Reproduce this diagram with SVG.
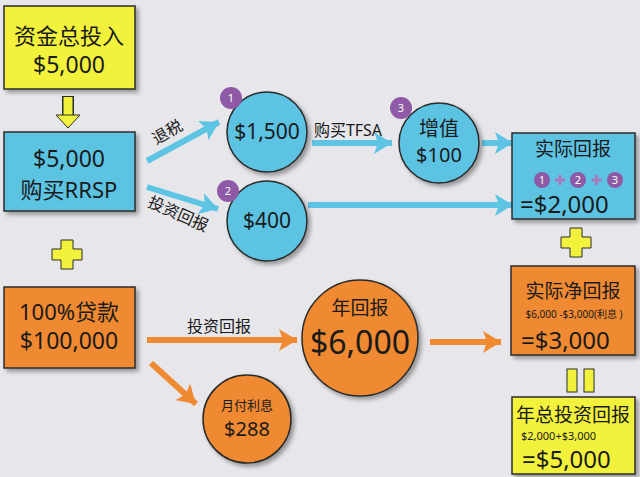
<svg xmlns="http://www.w3.org/2000/svg" width="640" height="477" viewBox="0 0 640 477">
<defs>
<filter id="sh" x="-20%" y="-20%" width="140%" height="140%">
<feDropShadow dx="3" dy="3" stdDeviation="2" flood-color="#000" flood-opacity="0.35"/>
</filter>
<marker id="ab" markerUnits="userSpaceOnUse" markerWidth="20" markerHeight="22" refX="18" refY="11" orient="auto">
<path d="M0,0 L18,11 L0,22 L4,11 Z" fill="#5ec4e4"/>
</marker>
<marker id="ao" markerUnits="userSpaceOnUse" markerWidth="20" markerHeight="22" refX="18" refY="11" orient="auto">
<path d="M0,0 L18,11 L0,22 L4,11 Z" fill="#ef8a33"/>
</marker>
</defs>
<style>
text{font-family:"Noto Sans","Noto Sans CJK SC",sans-serif;fill:#1a1a1a;text-anchor:middle}
.box{stroke:#2b2b2b;stroke-width:1.5;filter:url(#sh)}
.y{fill:#f2f23c}
.b{fill:#5cc3e3}
.o{fill:#ef8930}
.bl{stroke:#5ec4e4;stroke-width:6;fill:none;marker-end:url(#ab)}
.ol{stroke:#ef8a33;stroke-width:6;fill:none;marker-end:url(#ao)}
.pb{fill:#8e5aa5}
.pp{fill:#a77cbb}
.pt{fill:#fff;font-size:11px}
.lbl{font-size:16px}
</style>
<rect width="640" height="477" fill="#e7e7eb"/>

<g id="connectors">
<path d="M68,96 V116" stroke="#2b2b2b" stroke-width="12"/>
<path d="M68,97 V116" stroke="#f2f23c" stroke-width="9"/>
<path d="M56,115 L80,115 L68,128 Z" fill="#f2f23c" stroke="#2b2b2b" stroke-width="1"/>
<line x1="147" y1="161" x2="219" y2="122" class="bl"/>
<line x1="147" y1="187" x2="218" y2="209" class="bl"/>
<line x1="312" y1="143" x2="392" y2="143" class="bl"/>
<line x1="482" y1="143" x2="513" y2="143" class="bl"/>
<line x1="308" y1="205" x2="513" y2="205" class="bl"/>
<line x1="147" y1="340" x2="297" y2="340" class="ol"/>
<line x1="151" y1="363" x2="196" y2="404" class="ol"/>
<line x1="430" y1="342" x2="501" y2="342" class="ol"/>
<text class="lbl" transform="translate(170,137) rotate(-30)">退税</text>
<text class="lbl" transform="translate(176,219) rotate(24)">投资回报</text>
<text class="lbl" x="348" y="136">购买TFSA</text>
<text class="lbl" x="219" y="332">投资回报</text>
<path d="M61,240 H73 V249 H82 V260 H73 V269 H61 V260 H52 V249 H61 Z" fill="#f2f23c" stroke="#2b2b2b" stroke-width="1"/>
<path d="M570,228 H582 V237 H591 V248 H582 V257 H570 V248 H561 V237 H570 Z" fill="#f2f23c" stroke="#2b2b2b" stroke-width="1"/>
<rect x="567" y="369" width="10" height="23" fill="#f2f23c" stroke="#2b2b2b" stroke-width="1"/>
<rect x="584" y="369" width="10" height="23" fill="#f2f23c" stroke="#2b2b2b" stroke-width="1"/>
</g>

<g id="n-total">
<rect x="4" y="6" width="131" height="83" class="box y"/>
<text x="69" y="44" font-size="22">资金总投入</text>
<text x="69" y="73" font-size="23">$5,000</text>
</g>

<g id="n-rrsp">
<rect x="4" y="132" width="131" height="79" class="box b"/>
<text x="69" y="167" font-size="23">$5,000</text>
<text x="69" y="198" font-size="22">购买RRSP</text>
</g>

<g id="n-1500">
<circle cx="267" cy="132" r="40" class="box b"/>
<circle cx="231" cy="98" r="11" class="pb"/>
<text x="231" y="102" class="pt">1</text>
<text x="267" y="139" font-size="21">$1,500</text>
</g>

<g id="n-400">
<circle cx="267" cy="221" r="40" class="box b"/>
<circle cx="228" cy="191" r="11" class="pb"/>
<text x="228" y="195" class="pt">2</text>
<text x="267" y="228" font-size="21">$400</text>
</g>

<g id="n-100">
<circle cx="439" cy="143" r="40" class="box b"/>
<circle cx="401" cy="108" r="11" class="pb"/>
<text x="401" y="112" class="pt">3</text>
<text x="439" y="136" font-size="20">增值</text>
<text x="439" y="162" font-size="20">$100</text>
</g>

<g id="n-actual">
<rect x="512" y="133" width="123" height="86" class="box b"/>
<text x="573" y="156" font-size="19">实际回报</text>
<circle cx="542" cy="180" r="8" class="pb"/>
<text x="542" y="184" class="pt">1</text>
<path d="M558.5,175 h3 v3.5 h3.5 v3 h-3.5 v3.5 h-3 v-3.5 h-3.5 v-3 h3.5 Z" class="pp"/>
<circle cx="578" cy="180" r="8" class="pb"/>
<text x="578" y="184" class="pt">2</text>
<path d="M595,175 h3 v3.5 h3.5 v3 h-3.5 v3.5 h-3 v-3.5 h-3.5 v-3 h3.5 Z" class="pp"/>
<circle cx="615" cy="180" r="8" class="pb"/>
<text x="615" y="184" class="pt">3</text>
<text x="520" y="213" font-size="24" style="text-anchor:start">=$2,000</text>
</g>

<g id="n-loan">
<rect x="4" y="287" width="131" height="81" class="box o"/>
<text x="69" y="320" font-size="22">100%贷款</text>
<text x="69" y="349" font-size="23">$100,000</text>
</g>

<g id="n-annual">
<circle cx="360" cy="338" r="58" class="box o"/>
<text x="360" y="315" font-size="19">年回报</text>
<text x="360" y="354" font-size="32">$6,000</text>
</g>

<g id="n-interest">
<circle cx="247" cy="419" r="44" class="box o"/>
<text x="247" y="410" font-size="13">月付利息</text>
<text x="247" y="436" font-size="20">$288</text>
</g>

<g id="n-net">
<rect x="511" y="266" width="124" height="89" class="box o"/>
<text x="573" y="298" font-size="19">实际净回报</text>
<text x="574" y="318" font-size="10">$6,000 -$3,000(利息 )</text>
<text x="521" y="349" font-size="24" style="text-anchor:start">=$3,000</text>
</g>

<g id="n-total-return">
<rect x="512" y="397" width="123" height="77" class="box y"/>
<text x="573" y="422" font-size="19">年总投资回报</text>
<text x="521" y="440" font-size="11" style="text-anchor:start">$2,000+$3,000</text>
<text x="522" y="468" font-size="24" style="text-anchor:start">=$5,000</text>
</g>
</svg>
